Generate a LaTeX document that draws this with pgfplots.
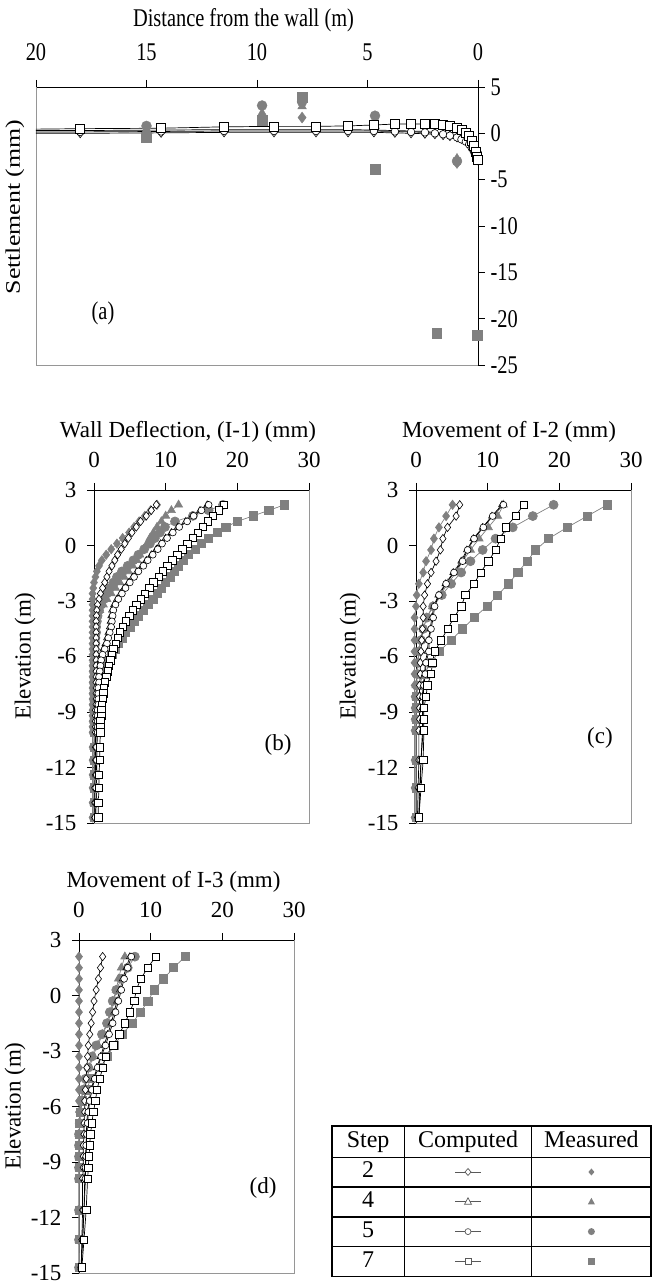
\documentclass[border=0pt]{standalone}
\usepackage{fontspec}
\setmainfont{Liberation Serif}
\newfontfamily\afont{Liberation Serif}[FakeStretch=0.8]
\usepackage{graphicx}
\usepackage{array}
\usepackage{pgfplots}
\usepackage{pgfplotstable}
\pgfplotsset{compat=1.18}
\definecolor{mg}{RGB}{128,128,128}
\definecolor{ax}{RGB}{150,150,150}
\newcommand{\Afont}{\afont\fontsize{25.5}{30}\selectfont}
\newcommand{\Bfont}{\fontsize{23}{27}\selectfont}
\newcommand{\Tfont}{\fontsize{24}{28}\selectfont}
\newcolumntype{C}[1]{>{\centering\arraybackslash}p{#1}}

\pgfplotstableread{
d c2 c4 c5 c7
20.0 0.0 0.3 0.15 0.45
18.0 0.0 0.3 0.15 0.5
14.34 0.05 0.35 0.2 0.55
11.49 0.1 0.4 0.25 0.7
9.23 0.1 0.4 0.25 0.75
7.33 0.1 0.4 0.25 0.75
5.88 0.1 0.4 0.25 0.8
4.71 0.1 0.35 0.25 0.9
3.76 0.05 0.3 0.2 1.0
3.03 0.0 0.25 0.15 1.0
2.40 -0.05 0.2 0.1 1.0
1.95 -0.1 0.1 0.0 1.0
1.58 -0.2 0.0 -0.1 0.9
1.27 -0.3 -0.15 -0.25 0.8
0.95 -0.45 -0.35 -0.45 0.6
0.75 -0.6 -0.55 -0.65 0.4
0.55 -0.8 -0.8 -0.9 0.1
0.40 -1.0 -1.1 -1.2 -0.3
0.28 -1.2 -1.4 -1.6 -0.8
0.18 -1.45 -1.8 -2.0 -1.4
0.10 -1.7 -2.2 -2.4 -2.0
0.04 -1.9 -2.5 -2.7 -2.5
0.00 -2.0 -2.7 -3.0 -2.9
}\tabA

\pgfplotstableread{
e c2 c4 c5 c7 m2 m4 m5 m7
2.2 8.7 15.8 16.0 18.1 8.8 11.8 18.0 26.6
1.9 8.0 14.8 15.0 17.4 7.9 10.8 16.0 24.4
1.6 7.3 13.7 13.9 16.6 7.1 10.0 13.8 22.2
1.3 6.5 12.8 13.0 15.9 6.3 9.4 11.3 20.0
1.0 5.9 11.7 11.9 15.2 5.6 8.8 9.9 18.4
0.7 5.3 10.8 11.0 14.5 4.9 8.3 9.2 17.2
0.4 4.8 10.0 10.2 13.8 4.0 7.8 8.5 16.0
0.1 4.3 9.3 9.5 13.0 3.2 7.4 7.8 15.0
-0.2 3.8 8.7 8.9 12.3 2.4 6.9 7.0 14.1
-0.5 3.3 8.0 8.2 11.6 1.7 6.4 6.2 13.2
-0.8 2.9 7.3 7.5 10.9 1.1 6.0 5.5 12.5
-1.1 2.5 6.7 6.9 10.2 0.7 5.4 4.7 11.8
-1.4 2.1 6.0 6.2 9.6 0.4 4.8 3.9 11.2
-1.7 1.8 5.4 5.6 9.0 0.2 4.2 3.2 10.6
-2.0 1.5 4.8 5.0 8.3 0.0 3.6 2.7 10.0
-2.3 1.2 4.2 4.4 7.7 -0.1 3.0 2.2 9.4
-2.6 0.9 3.7 3.9 7.1 -0.2 2.4 1.8 8.8
-2.9 0.7 3.2 3.4 6.5 -0.2 1.8 1.4 8.2
-3.2 0.5 2.8 3.0 5.9 -0.2 1.3 1.0 7.5
-3.5 0.4 2.5 2.7 5.4 -0.2 0.8 0.7 6.9
-3.8 0.35 2.4 2.6 4.9 -0.2 0.5 0.5 6.2
-4.1 0.3 2.3 2.5 4.4 -0.2 0.3 0.4 5.6
-4.4 0.3 2.2 2.4 4.0 -0.2 0.2 0.3 5.0
-4.7 0.3 2.0 2.2 3.6 -0.2 0.1 0.3 4.4
-5.0 0.3 1.8 2.0 3.3 -0.2 0.1 0.2 3.9
-5.3 0.3 1.6 1.8 3.0 -0.2 0.0 0.2 3.4
-5.6 0.3 1.3 1.5 2.7 -0.2 0.0 0.1 3.0
-5.9 0.3 1.1 1.2 2.5 -0.2 0.0 0.1 2.5
-6.2 0.3 0.9 1.0 2.3 -0.2 0.0 0.1 2.0
-6.5 0.3 0.8 0.9 2.1 -0.2 0.0 0.0 1.6
-6.8 0.3 0.7 0.8 1.9 -0.2 0.0 0.0 1.3
-7.1 0.3 0.6 0.7 1.7 -0.2 0.0 0.0 1.1
-7.4 0.3 0.6 0.7 1.5 -0.2 0.0 0.0 0.9
-7.7 0.3 0.6 0.6 1.4 -0.2 0.0 0.0 0.8
-8.0 0.3 0.5 0.6 1.3 -0.2 0.0 0.0 0.7
-8.3 0.3 0.5 0.6 1.2 -0.2 0.0 0.0 0.6
-8.6 0.3 0.5 0.6 1.1 -0.2 0.0 0.0 0.5
-8.9 0.2 0.5 0.5 1.0 -0.2 0.0 0.0 0.4
-9.2 0.2 0.5 0.5 1.0 -0.2 0.0 0.0 0.3
-9.5 0.2 0.5 0.5 0.9 -0.2 0.0 0.0 0.2
-9.8 0.2 0.4 0.5 0.9 -0.2 0.0 0.0 0.1
-10.1 0.2 0.4 0.5 0.9 -0.2 0.0 0.0 0.1
-10.9 0.2 0.4 0.4 0.8 -0.2 0.0 0.0 0.0
-11.6 0.2 0.4 0.4 0.8 -0.2 0.0 0.0 0.0
-12.4 0.2 0.3 0.4 0.7 -0.2 0.0 0.0 0.0
-13.1 0.1 0.3 0.3 0.7 -0.2 0.0 0.0 0.0
-13.9 0.1 0.3 0.3 0.6 -0.2 0.0 0.0 0.0
-14.7 0.1 0.2 0.2 0.6 -0.2 0.0 0.0 0.0
}\tabB

\pgfplotstableread{
e c2 c4 c5 c7 m2 m4 m5 m7
2.2 6.1 12.0 12.2 15.0 5.1 12.2 19.2 26.7
1.59 5.6 10.6 10.7 13.9 4.2 11.4 16.3 23.9
0.98 4.4 9.3 9.4 12.5 3.2 10.1 13.5 21.1
0.37 3.75 8.0 8.1 11.8 2.5 8.8 11.1 18.5
-0.24 3.4 7.1 7.2 11.1 2.1 7.6 9.3 16.7
-0.85 2.8 6.3 6.5 10.1 1.4 6.5 7.6 15.5
-1.46 2.1 5.2 5.3 9.0 1.0 5.6 6.3 14.2
-2.07 1.6 4.1 4.2 8.1 0.4 4.4 4.9 12.9
-2.68 1.2 3.1 3.2 6.9 0.1 3.4 3.6 11.4
-3.29 1.0 2.5 2.6 6.3 0.0 2.3 2.4 9.9
-3.9 1.0 2.2 2.4 5.3 -0.2 1.5 1.5 8.1
-4.51 0.9 2.0 2.1 4.4 -0.2 1.0 1.0 6.5
-5.12 0.8 1.7 1.8 3.5 -0.2 0.6 0.7 4.9
-5.73 0.7 1.6 1.8 2.6 -0.2 0.4 0.4 3.2
-6.34 0.6 1.3 1.4 2.3 -0.2 0.2 0.3 2.1
-6.95 0.6 1.2 1.3 2.1 -0.2 0.1 0.2 1.1
-7.56 0.5 1.0 1.1 1.6 -0.2 0.0 0.1 0.4
-8.17 0.5 0.9 1.0 1.4 -0.2 0.0 0.0 0.0
-8.78 0.5 0.9 1.0 1.1 -0.2 0.0 0.0 0.0
-9.39 0.5 0.9 1.0 1.1 -0.2 0.0 0.0 0.0
-10.0 0.4 0.9 1.0 1.1 -0.2 0.0 0.0 0.0
-11.6 0.4 0.7 0.7 1.0 -0.2 0.0 0.0 0.0
-13.1 0.3 0.5 0.6 0.7 -0.2 0.0 0.0 0.0
-14.7 0.2 0.4 0.4 0.4 -0.2 0.0 0.0 0.0
}\tabC

\pgfplotstableread{
e c2 c4 c5 c7 m2 m4 m5 m7
2.1 3.3 7.1 7.3 10.7 0 6.4 7.8 14.8
1.5 3.0 6.6 6.8 9.6 0 5.9 6.8 13.2
0.9 2.7 6.1 6.3 8.6 0 5.5 5.9 11.8
0.3 2.4 5.7 5.9 8.0 0 5.2 5.2 10.5
-0.3 2.1 5.3 5.5 7.7 0 4.9 4.7 9.6
-0.9 1.9 4.9 5.1 7.1 0 4.5 4.3 8.6
-1.5 1.7 4.5 4.7 6.4 0 4.0 3.9 7.4
-2.1 1.5 4.0 4.2 5.6 0 3.3 3.2 6.0
-2.7 1.3 3.5 3.7 4.8 0 2.6 2.4 4.9
-3.3 1.2 3.0 3.1 3.7 0 1.9 1.8 3.9
-3.9 1.1 2.5 2.6 3.3 0 1.5 1.3 3.0
-4.5 1.0 2.1 2.2 2.9 0 1.1 0.9 1.6
-5.1 0.9 1.7 1.8 2.5 0 0.6 0.5 1.1
-5.7 0.8 1.4 1.5 2.3 0 0.3 0.3 0.5
-6.3 0.8 1.2 1.3 2.0 0 0.2 0.2 0.2
-6.9 0.7 1.1 1.2 1.8 0 0.1 0.1 0.1
-7.5 0.7 1.0 1.1 1.6 0 0 0 0
-8.1 0.6 1.0 1.0 1.5 0 0 0 0
-8.7 0.6 0.9 1.0 1.4 0 0 0 0
-9.3 0.6 0.9 0.9 1.3 0 0 0 0
-9.9 0.5 0.8 0.9 1.2 0 0 0 0
-11.6 0.5 0.7 0.7 1.0 0 0 0 0
-13.2 0.4 0.5 0.5 0.7 0 0 0 0
-14.7 0.3 0.3 0.3 0.4 0 0 0 0
}\tabD

\pgfplotsset{
  comp/.style={black, line width=0.7pt, mark options={fill=white, draw=black, line width=0.6pt, solid}},
  meas/.style={mg, line width=0.7pt, mark options={fill=mg, draw=mg}},
  cD/.style={comp, mark=diamond*, mark size=4.2pt},
  cT/.style={comp, mark=triangle*, mark size=3.9pt},
  cC/.style={comp, mark=*, mark size=3.4pt},
  cS/.style={comp, mark=square*, mark size=3.7pt},
  mD/.style={meas, mark=diamond*, mark size=4.6pt},
  mT/.style={meas, mark=triangle*, mark size=4.6pt},
  mC/.style={meas, mark=*, mark size=4.5pt},
  mS/.style={meas, mark=square*, mark size=4.1pt},
  panel/.style={scale only axis, width=215pt, height=333pt, anchor=south west,
    xmin=0, xmax=30, ymin=-15, ymax=3,
    axis x line=top, axis y line=left,
    axis line style={-, black, line width=0.8pt},
    every outer x axis line/.append style={-},
    every outer y axis line/.append style={-},
    tick align=outside, major tick length=7pt, tick style={black, line width=0.8pt},
    xtick={0,10,20,30}, ytick={3,0,-3,-6,-9,-12,-15},
    /pgf/number format/assume math mode=true,
    ticklabel style={font=\Bfont},
    xticklabel style={yshift=12pt},
    yticklabel style={xshift=-7pt},
    clip=false},
}

\newcommand{\panelplots}[1]{%
  \draw[ax, line width=0.8pt] (axis cs:0,-15) -- (axis cs:30,-15) -- (axis cs:30,3);
  \addplot[mD] table[x=m2,y=e]{#1};
  \addplot[mT] table[x=m4,y=e]{#1};
  \addplot[mC] table[x=m5,y=e]{#1};
  \addplot[mS] table[x=m7,y=e]{#1};
  \addplot[cD] table[x=c2,y=e]{#1};
  \addplot[cT] table[x=c4,y=e]{#1};
  \addplot[cC] table[x=c5,y=e]{#1};
  \addplot[cS] table[x=c7,y=e]{#1};
}

\newcommand{\csym}[1]{\tikz[baseline={(0,-6pt)}]{\draw[black!65, line width=0.8pt] (-13pt,0)--(13pt,0); #1}}
\newcommand{\msym}[1]{\tikz[baseline={(0,-6pt)}]{#1}}

\begin{document}
\begin{tikzpicture}[x=1pt,y=1pt]
\useasboundingbox (0,0) rectangle (652,1285);

% ---------- (a) ----------
\begin{axis}[at={(36pt,920pt)}, anchor=south west, scale only axis,
  width=442pt, height=278pt,
  xmin=0, xmax=20, x dir=reverse, ymin=-25, ymax=5,
  axis x line=top, axis y line=right,
  axis line style={-, black, line width=0.8pt},
  every outer x axis line/.append style={-},
  every outer y axis line/.append style={-},
  tick align=outside, major tick length=7pt, tick style={black, line width=0.8pt},
  xtick={0,5,10,15,20}, ytick={5,0,-5,-10,-15,-20,-25},
  /pgf/number format/assume math mode=true,
  ticklabel style={font=\Afont},
  xticklabel style={yshift=16pt},
  yticklabel style={xshift=2pt},
  clip=false]
  \draw[ax, line width=0.8pt] (axis cs:0,-25) -- (axis cs:20,-25) -- (axis cs:20,5);
  \addplot[only marks, mg, mark=diamond*, mark size=5.5pt] coordinates {(15.0,0.0) (9.77,1.8) (7.96,1.7) (4.66,0.5) (0.95,-3.2)};
  \addplot[only marks, mg, mark=triangle*, mark size=5pt] coordinates {(15.0,0.4) (9.77,2.2) (7.96,2.9) (4.66,0.8) (0.95,-2.7)};
  \addplot[only marks, mg, mark=*, mark size=5pt] coordinates {(15.0,0.8) (9.77,3.0) (7.96,3.4) (4.66,1.9) (0.95,-3.0)};
  \addplot[only marks, mg, mark=square*, mark size=4.8pt] coordinates {(15.0,-0.4) (9.77,1.4) (7.96,3.9) (4.66,-3.9) (1.86,-21.6) (0.03,-21.8)};
  \addplot[cD, mark size=4.5pt, mark repeat=1, mark phase=2] table[x=d,y=c2]{\tabA};
  \addplot[cT, mark size=4.2pt, mark repeat=1, mark phase=2] table[x=d,y=c4]{\tabA};
  \addplot[cC, mark size=3.8pt, mark repeat=1, mark phase=2] table[x=d,y=c5]{\tabA};
  \addplot[cS, mark size=4.5pt, mark repeat=1, mark phase=2] table[x=d,y=c7]{\tabA};
\end{axis}
\node[font=\Afont] at (243.5,1265) {Distance from the wall (m)};
\node[rotate=90, font=\fontsize{25.9}{30}\selectfont] at (15,1078) {\scalebox{1}[0.8]{Settlement (mm)}};
\node[font=\Afont] at (103,972) {(a)};

% ---------- (b) ----------
\begin{axis}[panel, at={(94pt,462pt)}]
  \panelplots{\tabB}
\end{axis}
\node[font=\Bfont] at (188,853) {Wall Deflection, (I-1) (mm)};
\node[rotate=90, font=\Bfont] at (25,629) {Elevation (m)};
\node[font=\Bfont] at (278,540) {(b)};

% ---------- (c) ----------
\begin{axis}[panel, at={(416pt,462pt)}]
  \panelplots{\tabC}
\end{axis}
\node[font=\Bfont] at (509,853) {Movement of I-2 (mm)};
\node[rotate=90, font=\Bfont] at (350,629) {Elevation (m)};
\node[font=\Bfont] at (600,547) {(c)};

% ---------- (d) ----------
\begin{axis}[panel, at={(79pt,12pt)}]
  \panelplots{\tabD}
\end{axis}
\node[font=\Bfont] at (173.5,403) {Movement of I-3 (mm)};
\node[rotate=90, font=\Bfont] at (15,179) {Elevation (m)};
\node[font=\Bfont] at (263,97) {(d)};

% ---------- legend table ----------
\node[anchor=north west, inner sep=0pt] at (331,160) {\Tfont
  \setlength{\tabcolsep}{0pt}\setlength{\arrayrulewidth}{1.4pt}%
  \begin{tabular}{|C{71pt}|C{126pt}|C{118pt}|}\hline
  \rule[-9pt]{0pt}{30pt}Step & Computed & Measured\\\hline
  \rule[-8pt]{0pt}{28pt}2 & \csym{\draw[black!65,fill=white,line width=0.7pt] (0,3.5pt)--(3pt,0)--(0,-3.5pt)--(-3pt,0)--cycle;} & \msym{\fill[mg] (0,3.5pt)--(3pt,0)--(0,-3.5pt)--(-3pt,0)--cycle;}\\\hline
  \rule[-8pt]{0pt}{28pt}4 & \csym{\draw[black!65,fill=white,line width=0.7pt] (0,4pt)--(3.5pt,-2.5pt)--(-3.5pt,-2.5pt)--cycle;} & \msym{\fill[mg] (0,4pt)--(3.5pt,-2.5pt)--(-3.5pt,-2.5pt)--cycle;}\\\hline
  \rule[-8pt]{0pt}{28pt}5 & \csym{\draw[black!65,fill=white,line width=0.7pt] (0,0) circle (3pt);} & \msym{\fill[mg] (0,0) circle (3.5pt);}\\\hline
  \rule[-8pt]{0pt}{28pt}7 & \csym{\draw[black!65,fill=white,line width=0.7pt] (-3pt,-3pt) rectangle (3pt,3pt);} & \msym{\fill[mg] (-3.3pt,-3.3pt) rectangle (3.3pt,3.3pt);}\\\hline
  \end{tabular}};
\end{tikzpicture}
\end{document}
